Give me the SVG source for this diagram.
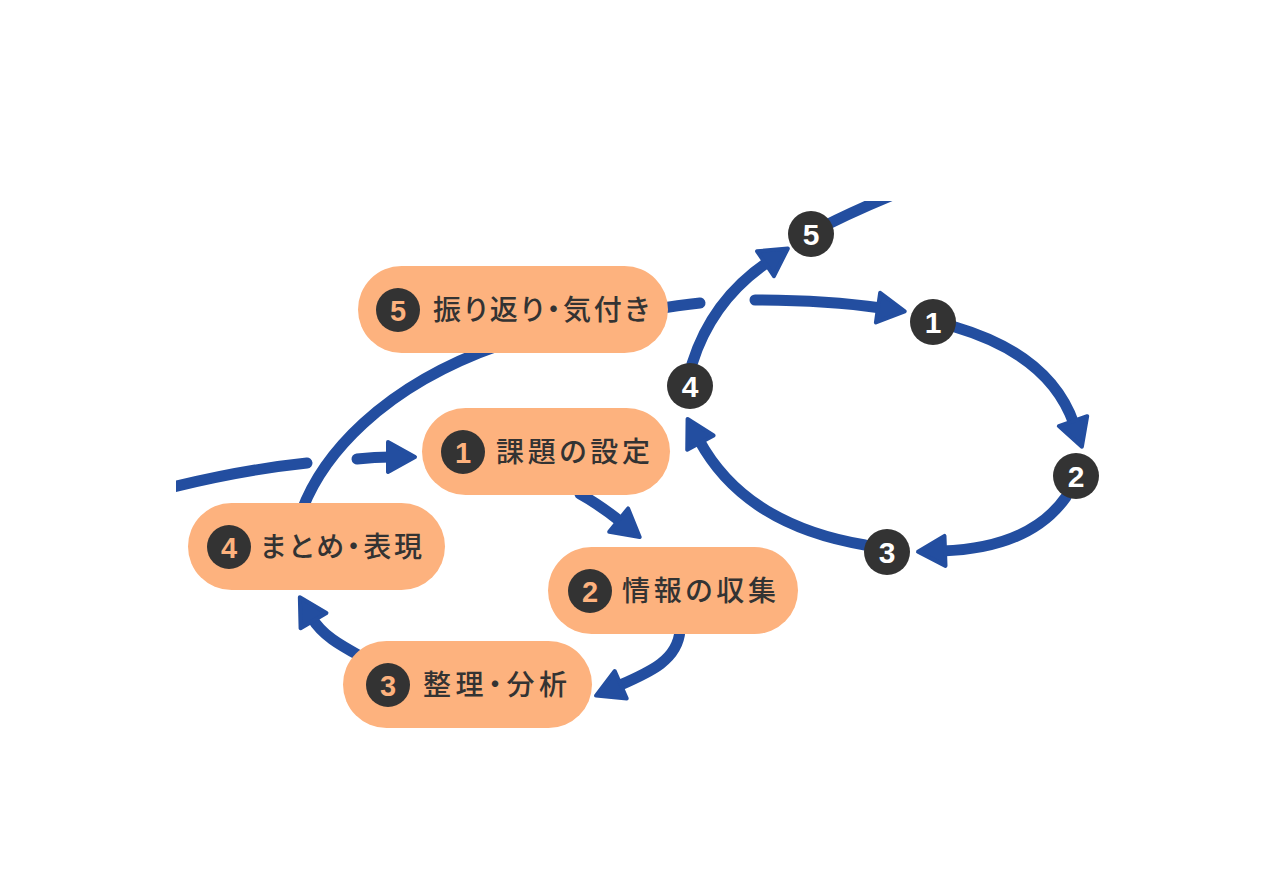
<svg xmlns="http://www.w3.org/2000/svg" width="1286" height="890" viewBox="0 0 1286 890">
  <style>
    .conn { fill: none; stroke: #234ea0; stroke-width: 11; stroke-linecap: round; }
    .pill { fill: #fdb27e; }
    .badge { fill: #333333; }
    .lbl { font-family: "Noto Sans CJK JP", "Noto Sans", sans-serif; font-weight: 500; font-size: 28px; fill: #333333; font-feature-settings: "palt"; }
    .bnum { font-family: "Liberation Sans", "Noto Sans", sans-serif; font-weight: 700; font-size: 29px; fill: #fdb27e; text-anchor: middle; }
    .cnum { font-family: "Liberation Sans", "Noto Sans", sans-serif; font-weight: 700; font-size: 30px; fill: #ffffff; text-anchor: middle; }
  </style>
  <defs>
    <marker id="ah" markerUnits="userSpaceOnUse" viewBox="-8 -20 36 40" markerWidth="36" markerHeight="40" refX="0" refY="0" orient="auto">
      <path d="M-3,-15 L24,0 L-3,15 Z" fill="#234ea0" stroke="#234ea0" stroke-width="4" stroke-linejoin="round"/>
    </marker>
    <clipPath id="frame">
      <rect x="176" y="201" width="1000" height="600"/>
    </clipPath>
  </defs>
  <rect width="1286" height="890" fill="#ffffff"/>

  <g id="connectors" clip-path="url(#frame)">
    <path class="conn" d="M165,489 Q240,470 307,463"/>
    <path class="conn" d="M357,459 Q375,457 391,457" marker-end="url(#ah)"/>
    <path class="conn" d="M580,494 Q600,505 621,522" marker-end="url(#ah)"/>
    <path class="conn" d="M680,630 C678,660 650,672 618,686" marker-end="url(#ah)"/>
    <path class="conn" d="M360,656 C340,645 322,635 312,618" marker-end="url(#ah)"/>
    <path class="conn" d="M298,522 C318,455 385,385 500,345"/>
    <path class="conn" d="M650,310 Q680,305 700,303"/>
    <path class="conn" d="M755,300 Q825,300 881,308" marker-end="url(#ah)"/>
    <path class="conn" d="M692,364 Q712,300 768,262" marker-end="url(#ah)"/>
    <path class="conn" d="M811,233 Q850,212 905,190"/>
    <path class="conn" d="M955,327 Q1050,355 1074,424" marker-end="url(#ah)"/>
    <path class="conn" d="M1066,497 Q1030,548 942,551" marker-end="url(#ah)"/>
    <path class="conn" d="M865,545 Q745,525 699,440" marker-end="url(#ah)"/>
  </g>

  <g id="step5">
    <rect class="pill" x="358" y="266" width="310" height="87" rx="43.5"/>
    <circle class="badge" cx="398" cy="310" r="22"/>
    <text class="bnum" x="398" y="320.5">5</text>
    <text class="lbl" x="433" y="320" textLength="216" lengthAdjust="spacing">振り返り・気付き</text>
  </g>
  <g id="step1">
    <rect class="pill" x="422" y="408" width="248" height="87" rx="43.5"/>
    <circle class="badge" cx="463" cy="452" r="22"/>
    <text class="bnum" x="463" y="462.5">1</text>
    <text class="lbl" x="496" y="462" textLength="154" lengthAdjust="spacing">課題の設定</text>
  </g>
  <g id="step4">
    <rect class="pill" x="188" y="503" width="257" height="87" rx="43.5"/>
    <circle class="badge" cx="229" cy="547" r="22"/>
    <text class="bnum" x="229" y="557.5">4</text>
    <text class="lbl" x="260" y="557" textLength="162" lengthAdjust="spacing">まとめ・表現</text>
  </g>
  <g id="step2">
    <rect class="pill" x="548" y="547" width="250" height="87" rx="43.5"/>
    <circle class="badge" cx="590" cy="591" r="22"/>
    <text class="bnum" x="590" y="601.5">2</text>
    <text class="lbl" x="622" y="601" textLength="154" lengthAdjust="spacing">情報の収集</text>
  </g>
  <g id="step3">
    <rect class="pill" x="343" y="641" width="249" height="87" rx="43.5"/>
    <circle class="badge" cx="388" cy="685" r="22"/>
    <text class="bnum" x="388" y="695.5">3</text>
    <text class="lbl" x="423" y="695" textLength="144" lengthAdjust="spacing">整理・分析</text>
  </g>

  <g id="c1"><circle class="badge" cx="933" cy="322" r="23"/><text class="cnum" x="933" y="333">1</text></g>
  <g id="c2"><circle class="badge" cx="1076" cy="476" r="23"/><text class="cnum" x="1076" y="487">2</text></g>
  <g id="c3"><circle class="badge" cx="887" cy="552" r="23"/><text class="cnum" x="887" y="563">3</text></g>
  <g id="c4"><circle class="badge" cx="690" cy="386" r="23"/><text class="cnum" x="690" y="397">4</text></g>
  <g id="c5"><circle class="badge" cx="811" cy="234" r="23"/><text class="cnum" x="811" y="245">5</text></g>
</svg>
